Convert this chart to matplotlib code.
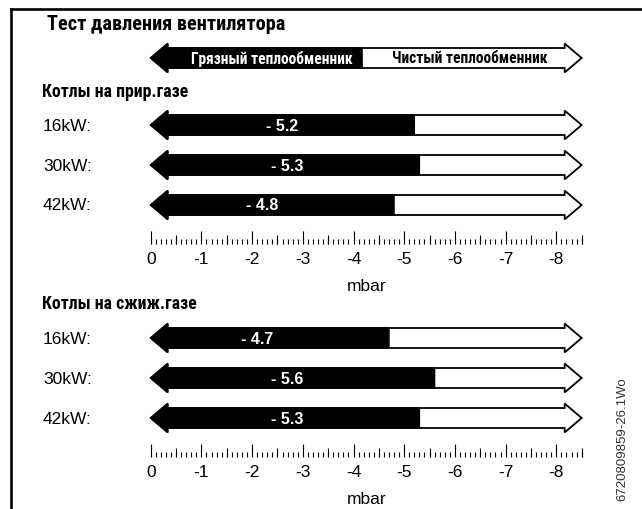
import numpy as np
import matplotlib
matplotlib.use('Agg')
import matplotlib.pyplot as plt
from matplotlib.patches import Polygon
from matplotlib.lines import Line2D
from matplotlib.transforms import blended_transform_factory

# fan pressure test readings, mbar
rows = ['16kW:', '30kW:', '42kW:']
natural_gas = [-5.2, -5.3, -4.8]
lpg = [-4.7, -5.6, -5.3]
ticks = [0, -1, -2, -3, -4, -5, -6, -7, -8]
tick_labels = ['0', '-1', '-2', '-3', '-4', '-5', '-6', '-7', '-8']

title = 'Тест давления вентилятора'
dirty_label = 'Грязный теплообменник'
clean_label = 'Чистый теплообменник'
group_titles = ['Котлы на прир.газе', 'Котлы на сжиж.газе']
doc_id = '6720809859-26.1Wo'

SCALE_END = -8.5
HEAD_LEN = 0.335
SHAFT = 0.25
HEAD = 0.36
NARROW = ['Roboto Condensed', 'PT Sans Narrow', 'Fira Sans Condensed', 'DejaVu Sans']
REGULAR = ['Liberation Sans', 'DejaVu Sans']

W, H = 642, 510
fig = plt.figure(figsize=(W / 100, H / 100), dpi=100)

X0_PX, PX_PER_MBAR = 150.7, 50.7
XLIM = (0.1, -8.6)


def add_axes_px(top, bottom):
    left = X0_PX - XLIM[0] * PX_PER_MBAR
    right = X0_PX - XLIM[1] * PX_PER_MBAR
    ax = fig.add_axes([left / W, 1 - bottom / H, (right - left) / W, (bottom - top) / H])
    ax.set_xlim(*XLIM)
    for s in ax.spines.values():
        s.set_visible(False)
    ax.set_yticks([])
    return ax


def draw_arrow(ax, y, split):
    hl, end = HEAD_LEN, SCALE_END
    outline = [(0, y), (-hl, y - HEAD), (-hl, y - SHAFT), (end + hl, y - SHAFT),
               (end + hl, y - HEAD), (end, y), (end + hl, y + HEAD), (end + hl, y + SHAFT),
               (-hl, y + SHAFT), (-hl, y + HEAD)]
    ax.add_patch(Polygon(outline, closed=True, facecolor='white', edgecolor='black',
                         lw=1.3, joinstyle='miter', zorder=2, clip_on=False))
    dark = [(0, y), (-hl, y - HEAD), (-hl, y - SHAFT), (split, y - SHAFT),
            (split, y + SHAFT), (-hl, y + SHAFT), (-hl, y + HEAD)]
    ax.add_patch(Polygon(dark, closed=True, facecolor='black', edgecolor='black',
                         lw=1.0, joinstyle='miter', zorder=3, clip_on=False))


def draw_group(top, bottom, values):
    ax = add_axes_px(top, bottom)
    ax.set_ylim(2.975, -0.5)
    lab_tr = blended_transform_factory(fig.transFigure, ax.transData)
    for i, (name, v) in enumerate(zip(rows, values)):
        draw_arrow(ax, i, v)
        ax.text(43 / W, i, name, transform=lab_tr, ha='left', va='center',
                fontsize=12.5, family=REGULAR)
        xc = -min(abs(v) - 2.6, 2.7)
        ax.text(xc, i, f'- {abs(v):.1f}', color='white', fontweight='bold',
                ha='center', va='center', fontsize=11.5, family=REGULAR, zorder=4)

    # ruler: whole, tenth and half-mbar marks
    ax.set_xticks(ticks, labels=tick_labels)
    ax.set_xticks(np.round(np.arange(0, SCALE_END - 0.05, -0.1), 1), minor=True)
    ax.tick_params(axis='x', which='major', direction='in', length=9.2, width=0.8,
                   pad=5, labelsize=12.5)
    ax.tick_params(axis='x', which='minor', direction='in', length=3.8, width=0.8)
    for lab in ax.get_xticklabels():
        lab.set_family(REGULAR)
    half = ax.secondary_xaxis('bottom')
    half.spines['bottom'].set_visible(False)
    half.set_xticks(np.arange(-0.5, SCALE_END - 0.05, -1.0), labels=[])
    half.tick_params(axis='x', direction='in', length=6.2, width=0.8)
    ax.set_xlabel('mbar', fontsize=12.5, family=REGULAR, labelpad=8.5)
    return ax


# legend arrow: dirty vs clean heat exchanger
leg = add_axes_px(39, 79)
leg.set_ylim(0.5, -0.5)
leg.set_xticks([])
draw_arrow(leg, 0, -4.17)
leg.text(-2.39, 0, dirty_label, color='white', fontweight='bold', ha='center',
         va='center', fontsize=11.2, family=NARROW, zorder=4)
leg.text(-6.3, 0, clean_label, color='black', fontweight='bold', ha='center',
         va='center', fontsize=11.2, family=NARROW, zorder=4)

draw_group(106, 245, natural_gas)
draw_group(319, 458, lpg)

fig.text(47 / W, 1 - 25 / H, title, fontsize=14.6, fontweight='bold', family=NARROW,
         va='center', ha='left')
for txt, ypx in zip(group_titles, [92, 304]):
    fig.text(42 / W, 1 - ypx / H, txt, fontsize=12.8, fontweight='bold', family=NARROW,
             va='center', ha='left')

fig.text(622 / W, 1 - 439 / H, doc_id, rotation=90, ha='center', va='center',
         fontsize=9.5, color='#333333', family=REGULAR)

# frame on the left and top
fig.add_artist(Line2D([11 / W, 11 / W], [0, 1 - 10 / H], color='black', lw=1.9))
fig.add_artist(Line2D([11 / W, 1], [1 - 10 / H, 1 - 10 / H], color='black', lw=1.9))

fig.savefig('out.png', dpi=100)
